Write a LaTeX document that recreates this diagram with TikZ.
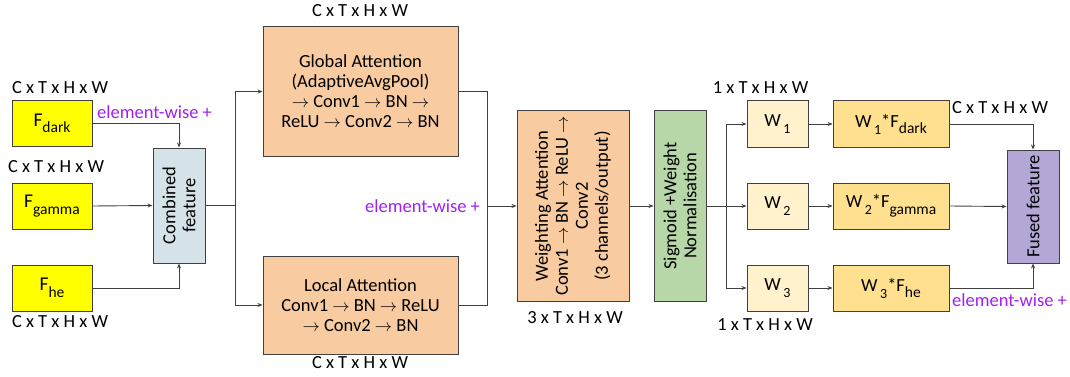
\documentclass[tikz,border=0pt]{standalone}
\usepackage{fontspec}
\setmainfont{Carlito}
\usetikzlibrary{arrows.meta}
\definecolor{fyel}{HTML}{FFFF00}
\definecolor{cblue}{HTML}{D5E3E8}
\definecolor{orng}{HTML}{F8CBA0}
\definecolor{grn}{HTML}{B7D7A8}
\definecolor{wlt}{HTML}{FFF2CC}
\definecolor{wfd}{HTML}{FFE08F}
\definecolor{purp}{HTML}{B4A7D6}
\definecolor{ptxt}{HTML}{A020F0}
\definecolor{edge}{HTML}{404040}
\newcommand\sbs[1]{\raisebox{-6.5pt}{\fontsize{15.5}{15.5}\selectfont #1}}
\newcommand\sbn[1]{\hspace{2.5pt}\raisebox{-7pt}{\fontsize{14}{14}\selectfont #1}}
\tikzset{
  bx/.style={draw=edge, line width=1pt, inner sep=0pt, align=center},
  fbx/.style={bx, fill=fyel, minimum width=80pt, minimum height=46pt, font=\fontsize{19.5}{20}\selectfont},
  arr/.style={draw=edge, line width=0.9pt, -{Stealth[length=5pt,width=4pt]}},
  ln/.style={draw=edge, line width=0.9pt},
  dim/.style={inner sep=0pt},
  ew/.style={inner sep=0pt, text=ptxt},
}
\begin{document}
\begin{tikzpicture}[x=1pt,y=-1pt,font=\fontsize{18.5}{20}\selectfont]
\useasboundingbox (0,0) rectangle (1070,377);
% input features
\node[fbx] (fdark) at (52,123.5) {F\sbs{dark}};
\node[fbx] (fgamma) at (52,206) {F\sbs{gamma}};
\node[fbx] (fhe) at (52,288) {F\sbs{he}};
\node[dim] (l1) at (60,88) {C x T x H x W};
\node[dim] (l2) at (56,167) {C x T x H x W};
\node[dim] (l3) at (60,322) {C x T x H x W};
\node[ew] (e1) at (154.5,112) {element-wise +};
% combined
\node[bx, fill=cblue, minimum width=52pt, minimum height=115pt] (comb) at (179,205.5) {};
\node[rotate=90, align=center, inner sep=0pt] (combt) at (comb.center) {Combined\\feature};
% attentions
\node[bx, fill=orng, minimum width=195pt, minimum height=129pt] (glob) at (360.5,91.5) {Global Attention\\(AdaptiveAvgPool)\\$\rightarrow$ Conv1 $\rightarrow$ BN $\rightarrow$\\ReLU $\rightarrow$ Conv2 $\rightarrow$ BN};
\node[bx, fill=orng, minimum width=195pt, minimum height=98pt] (loc) at (360.5,305) {Local Attention\\Conv1 $\rightarrow$ BN $\rightarrow$ ReLU\\$\rightarrow$ Conv2 $\rightarrow$ BN};
\node[dim] (l4) at (360,11) {C x T x H x W};
\node[dim] (l5) at (360,363) {C x T x H x W};
\node[ew] (e2) at (422.5,206) {element-wise +};
% weighting
\node[bx, fill=orng, minimum width=112pt, minimum height=190pt] (weight) at (573,206) {};
\node[rotate=90, align=center, inner sep=0pt] (weightt) at (weight.center) {Weighting Attention\\Conv1 $\rightarrow$ BN $\rightarrow$ ReLU $\rightarrow$\\Conv2\\(3 channels/output)};
\node[dim] (l6) at (575,318) {3 x T x H x W};
\node[bx, fill=grn, minimum width=52pt, minimum height=190pt] (sig) at (680,206) {};
\node[rotate=90, align=center, inner sep=0pt] (sigt) at (sig.center) {Sigmoid +Weight\\Normalisation};
% weights
\node[bx, fill=wlt, minimum width=61pt, minimum height=46pt] (w1) at (777.5,124) {W\sbn{1}};
\node[bx, fill=wlt, minimum width=61pt, minimum height=46pt] (w2) at (777.5,206) {W\sbn{2}};
\node[bx, fill=wlt, minimum width=61pt, minimum height=46pt] (w3) at (777.5,288) {W\sbn{3}};
\node[bx, fill=wfd, minimum width=116pt, minimum height=46pt] (wf1) at (891,124) {W\sbn{1}*F\sbs{dark}};
\node[bx, fill=wfd, minimum width=116pt, minimum height=46pt] (wf2) at (891,206) {W\sbn{2}*F\sbs{gamma}};
\node[bx, fill=wfd, minimum width=116pt, minimum height=46pt] (wf3) at (891,288) {W\sbn{3}*F\sbs{he}};
\node[dim] (l7) at (760.5,88) {1 x T x H x W};
\node[dim] (l8) at (765,325) {1 x T x H x W};
\node[dim] (l9) at (1000,107.5) {C x T x H x W};
\node[ew] (e3) at (1009.5,300) {element-wise +};
\node[bx, fill=purp, minimum width=52pt, minimum height=113pt] (fused) at (1033,206.5) {};
\node[rotate=90, inner sep=0pt] (fusedt) at (fused.center) {Fused feature};
% connectors
\coordinate (b1) at (235,205.5);
\coordinate (j1) at (487,206);
\coordinate (b2) at (726,206);
\draw[arr] (fdark.east) -| (comb.north);
\draw[arr] (fgamma.east) -- (comb.west);
\draw[arr] (fhe.east) -| (comb.south);
\draw[ln] (comb.east) -- (b1);
\draw[arr] (b1) |- (glob.west);
\draw[arr] (b1) |- (loc.west);
\draw[ln] (glob.east) -| (j1);
\draw[ln] (loc.east) -| (j1);
\draw[arr] (j1) -- (weight.west);
\draw[arr] (weight.east) -- (sig.west);
\draw[ln] (sig.east) -- (b2);
\draw[arr] (b2) |- (w1.west);
\draw[arr] (b2) -- (w2.west);
\draw[arr] (b2) |- (w3.west);
\draw[arr] (w1.east) -- (wf1.west);
\draw[arr] (w2.east) -- (wf2.west);
\draw[arr] (w3.east) -- (wf3.west);
\draw[arr] (wf1.east) -| (fused.north);
\draw[arr] (wf2.east) -- (fused.west);
\draw[arr] (wf3.east) -| (fused.south);
\end{tikzpicture}
\end{document}
